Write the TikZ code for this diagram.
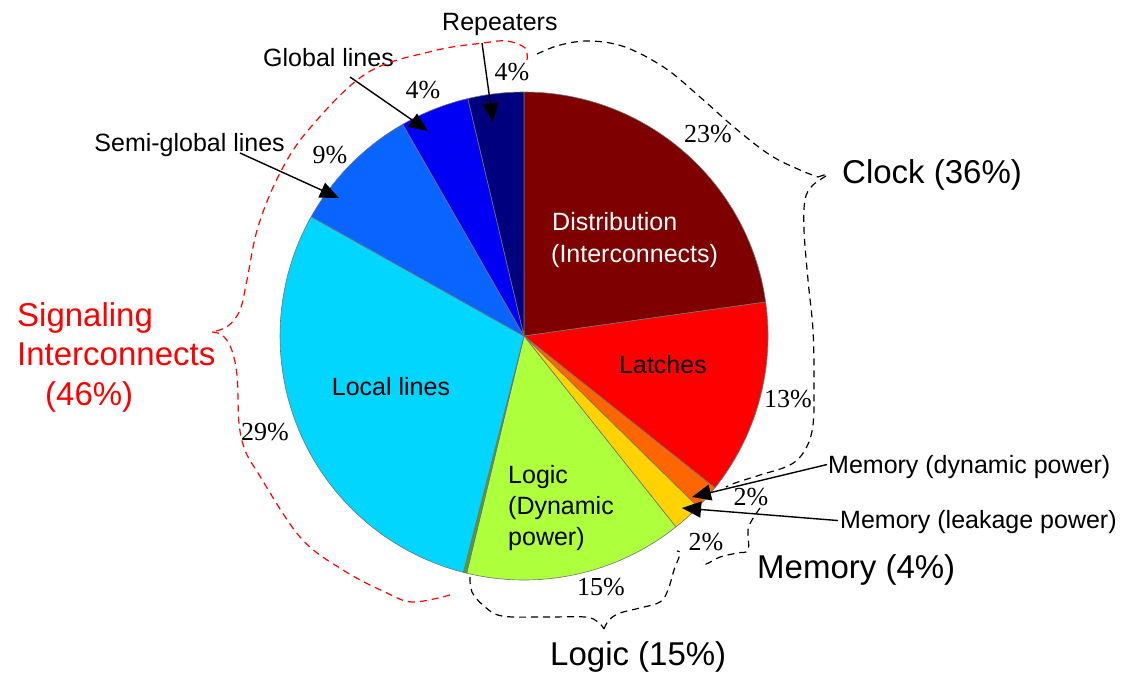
\documentclass[tikz,border=0pt]{standalone}
\usepackage{fontspec}
\setmainfont{Liberation Serif}
\setsansfont{Liberation Sans}
\usetikzlibrary{arrows.meta}

\definecolor{cDist}{HTML}{7F0000}
\definecolor{cLatch}{HTML}{FF0000}
\definecolor{cMemDyn}{HTML}{FF6600}
\definecolor{cMemLeak}{HTML}{FFD200}
\definecolor{cLogic}{HTML}{AEFF3C}
\definecolor{cThin}{HTML}{4F9F30}
\definecolor{cLocal}{HTML}{00D6FF}
\definecolor{cSemi}{HTML}{0A64FF}
\definecolor{cGlobal}{HTML}{0000F5}
\definecolor{cRep}{HTML}{00007F}
\definecolor{cSig}{HTML}{FF0000}

\begin{document}
\begin{tikzpicture}[x=1pt,y=1pt,
  small/.style={font=\sffamily\fontsize{25}{30}\selectfont, inner sep=0pt},
  big/.style={font=\sffamily\fontsize{33}{39}\selectfont, inner sep=0pt},
  pct/.style={font=\rmfamily\fontsize{26}{30}\selectfont, inner sep=0pt, anchor=base},
  slice/.style={draw=black!55, line width=0.6pt, line join=round},
  pointer/.style={line width=1.4pt, -{Triangle[length=19pt,width=16pt]}},
  brace/.style={dash pattern=on 7pt off 5pt, line width=1.2pt},
]
\useasboundingbox (0,0) rectangle (1129,-673);

% ---- pie ----
\coordinate (O) at (524,-336);
\def\R{244}
\foreach \a/\b/\c in {90/8/cDist, 8/-38.5/cLatch, -38.5/-44.5/cMemDyn,
    -44.5/-51.5/cMemLeak, -51.5/-103.6/cLogic, -103.6/-104.4/cThin,
    -104.4/-209.3/cLocal, -209.3/-240.2/cSemi, -240.2/-256.7/cGlobal,
    -256.7/-270/cRep}
  \filldraw[slice, fill=\c] (O) -- ++(\a:\R) arc[start angle=\a, end angle=\b, radius=\R] -- cycle;

% ---- labels inside the slices ----
\node[small, text=white, anchor=base west] (dist1) at (552,-230) {Distribution};
\node[small, text=white, anchor=base west] (dist2) at (551,-262) {(Interconnects)};
\node[small, anchor=base] (latch) at (663,-373) {Latches};
\node[small, anchor=base] (local) at (391,-395) {Local lines};
\node[small, anchor=base west] (logic1) at (508,-483) {Logic};
\node[small, anchor=base west] (logic2) at (508,-514) {(Dynamic};
\node[small, anchor=base west] (logic3) at (508,-545) {power)};

% ---- percentages ----
\node[pct] (p23) at (708,-142) {23\%};
\node[pct] (p13) at (788,-407) {13\%};
\node[pct] (p2a) at (751,-505) {2\%};
\node[pct] (p2b) at (706,-550) {2\%};
\node[pct] (p15) at (601,-595) {15\%};
\node[pct] (p29) at (265,-440) {29\%};
\node[pct] (p9)  at (330,-163) {9\%};
\node[pct] (p4g) at (423,-98) {4\%};
\node[pct] (p4r) at (512,-80) {4\%};

% ---- outside labels ----
\node[small, anchor=base west] (rep) at (442,-30) {Repeaters};
\node[small, anchor=base west] (glob) at (263,-66) {Global lines};
\node[small, anchor=base east] (semi) at (285,-151) {Semi-global lines};
\node[small, anchor=base west] (mdyn) at (828,-473) {Memory (dynamic power)};
\node[small, anchor=base west] (mleak) at (840,-528) {Memory (leakage power)};
\node[big, anchor=base west] (clock) at (842,-183) {Clock (36\%)};
\node[big, anchor=base west] (mem) at (757,-578) {Memory (4\%)};
\node[big, anchor=base west] (logic) at (550,-665) {Logic (15\%)};
\node[big, text=cSig, anchor=base west] (sig1) at (17,-326) {Signaling};
\node[big, text=cSig, anchor=base west] (sig2) at (17,-365) {Interconnects};
\node[big, text=cSig, anchor=base west] (sig3) at (45,-405) {(46\%)};

% ---- pointers ----
\coordinate (repT) at (482,-43);   \coordinate (repH) at (493,-122);
\coordinate (globT) at (350,-77);  \coordinate (globH) at (428,-131);
\coordinate (semiT) at (240,-153); \coordinate (semiH) at (339,-198);
\coordinate (mdynH) at (692,-497);
\coordinate (mleakH) at (682,-508);
\draw[pointer] (repT) -- (repH);
\draw[pointer] (globT) -- (globH);
\draw[pointer] (semiT) -- (semiH);
\draw[pointer] (mdyn.west) ++(-1,2) -- (mdynH);
\draw[pointer] (mleak.west) ++(-2,1) -- (mleakH);

% ---- group braces ----
% clock
\draw[brace] plot[smooth, tension=0.6] coordinates {(537,-54) (560,-45) (590,-41) (625,-47) (665,-68) (700,-97) (735,-128) (770,-155) (800,-170) (818,-177)};
\draw[brace] (818,-177) -- (827,-174);
\draw[brace] plot[smooth, tension=0.6] coordinates {(826,-176) (812,-186) (805,-200) (804,-230) (808,-280) (813,-330) (814,-380) (813,-425) (805,-450) (790,-465) (760,-475) (735,-483) (726,-487)};
% memory
\draw[brace] plot[smooth, tension=0.6] coordinates {(760,-508) (752,-520) (748,-530) (748,-550) (737,-553) (720,-557) (706,-564) (703,-560)};
% logic
\draw[brace] plot[smooth, tension=0.6] coordinates {(470,-577) (472,-592) (484,-606) (502,-616) (545,-617) (585,-617) (598,-622) (604,-629)};
\draw[brace] plot[smooth, tension=0.6] coordinates {(604,-629) (609,-620) (620,-613) (640,-608) (660,-602) (668,-590) (674,-570) (680,-554) (677,-551)};
% signaling interconnects
\draw[brace, cSig] plot[smooth, tension=0.6] coordinates {(527,-60) (525,-48) (507,-41) (483,-43) (433,-51) (367,-73) (310,-128) (280,-173) (258,-227) (247,-280) (240,-310) (228,-326) (212,-332)};
\draw[brace, cSig] plot[smooth, tension=0.6] coordinates {(212,-332) (222,-335) (231,-348) (237,-375) (239,-423) (245,-450) (258,-473) (300,-537) (343,-570) (387,-593) (413,-602) (450,-595)};
\end{tikzpicture}
\end{document}
